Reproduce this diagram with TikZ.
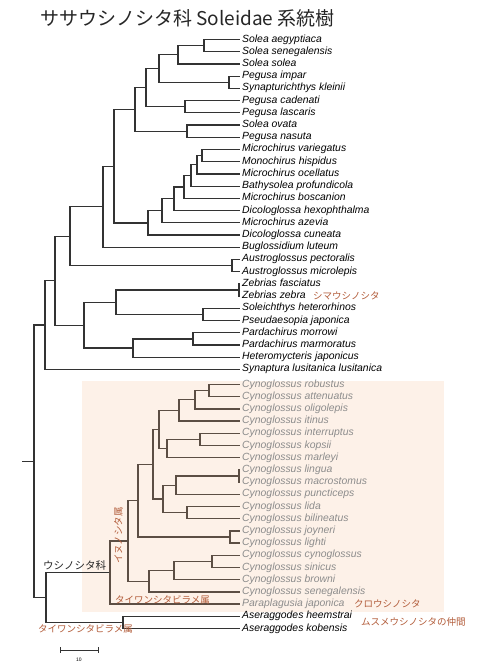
\documentclass[tikz,border=0pt]{standalone}
\usepackage{fontspec}
\setmainfont{Liberation Sans}
\newfontfamily\jfont{Noto Sans CJK JP}
\usetikzlibrary{positioning}
\definecolor{jbrown}{RGB}{178,92,58}
\definecolor{cgray}{RGB}{140,140,140}
\definecolor{boxfill}{RGB}{253,241,232}
\definecolor{cline}{RGB}{92,78,68}
\tikzset{
  branch/.style={draw=black!80, line width=1.25pt},
  cbranch/.style={draw=cline, line width=1.25pt},
  leaf/.style={anchor=west, inner xsep=2pt, inner ysep=0pt, font=\fontsize{10.4}{12}\selectfont\itshape, text height=7pt, text depth=2pt},
  cleaf/.style={leaf, text=cgray},
  jlabel/.style={font=\jfont\fontsize{9.5}{11}\selectfont, text=jbrown, inner sep=0pt},
}

\begin{document}
\begin{tikzpicture}[x=1pt, y=-1pt]
  \useasboundingbox (0,0) rectangle (500,667);
  % Cynoglossidae box
  \fill[boxfill] (82,381) rectangle (444,612);

  \node[font=\jfont\fontsize{19}{22}\selectfont, text=black!85, anchor=west, inner sep=0pt]
    (title) at (40,18.5) {ササウシノシタ科 Soleidae 系統樹};

  % leaves
  \foreach \txt [count=\i from 0] in {Solea aegyptiaca, Solea senegalensis, Solea solea,
      Pegusa impar, Synapturichthys kleinii, Pegusa cadenati, Pegusa lascaris,
      Solea ovata, Pegusa nasuta, Microchirus variegatus, Monochirus hispidus,
      Microchirus ocellatus, Bathysolea profundicola, Microchirus boscanion,
      Dicologlossa hexophthalma, Microchirus azevia, Dicologlossa cuneata,
      Buglossidium luteum, Austroglossus pectoralis, Austroglossus microlepis,
      Zebrias fasciatus, Zebrias zebra, Soleichthys heterorhinos, Pseudaesopia japonica,
      Pardachirus morrowi, Pardachirus marmoratus, Heteromycteris japonicus,
      Synaptura lusitanica lusitanica}{
    \coordinate (l\i) at (240,{39.5+12.22*\i});
    \node[leaf] (t\i) at (l\i) {\txt};
  }
  \foreach \txt [count=\i from 28] in {Cynoglossus robustus, Cynoglossus attenuatus,
      Cynoglossus oligolepis, Cynoglossus itinus, Cynoglossus interruptus,
      Cynoglossus kopsii, Cynoglossus marleyi, Cynoglossus lingua,
      Cynoglossus macrostomus, Cynoglossus puncticeps, Cynoglossus lida,
      Cynoglossus bilineatus, Cynoglossus joyneri, Cynoglossus lighti,
      Cynoglossus cynoglossus, Cynoglossus sinicus, Cynoglossus browni,
      Cynoglossus senegalensis, Paraplagusia japonica}{
    \coordinate (l\i) at (240,{384.5+12.2*(\i-28)});
    \node[cleaf] (t\i) at (l\i) {\txt};
  }
  \foreach \txt [count=\i from 47] in {Aseraggodes heemstrai, Aseraggodes kobensis}{
    \coordinate (l\i) at (240,{384.5+12.2*(\i-28)});
    \node[leaf] (t\i) at (l\i) {\txt};
  }

  % internal nodes
  \foreach \n/\x/\y in {a1/204/45.61, a2/178/54.78, a3/229/82.27, a4/159/68.52,
      a5/185/106.71, a6/146/87.62, a7/187/131.15, a8/135/109.38,
      b1/202/155.59, b2/197/164.76, b3/191/175.45, b4/184/186.90,
      b5/174/198.74, b6/162/210.77, b7/148/222.90,
      c1/114/166.14, c2/103/206.69, d1/232/265.57, c3/70/236.13,
      e1/239/290.01, e2/203/314.45, e3/116/302.23, e4/193/338.89,
      e5/133/348.06, e6/84/325.14, c4/55/280.63, c5/45/325.03,
      f1/209/390.6, f2/195/399.75, f3/179/410.43, f4/200/439.4,
      f5/167/448.55, f6/159/429.49, g1/239/476.0, g2/176/485.15,
      g3/187/512.6, g4/163/498.88, f7/153/464.18, h1/230/537.0,
      f8/138/500.59, i1/212/561.4, i2/174/570.55, i3/149/581.23,
      f9/128/540.91, j1/110/572.5, k1/123/622.4, j2/46/597.45,
      rt/34/461.24, r0/22/461.24}
    \coordinate (\n) at (\x,\y);

  % Soleidae branches
  \foreach \p/\c in {a1/l0, a1/l1, a2/a1, a2/l2, a3/l3, a3/l4, a4/a2, a4/a3,
      a5/l5, a5/l6, a6/a4, a6/a5, a7/l7, a7/l8, a8/a6, a8/a7,
      b1/l9, b1/l10, b2/b1, b2/l11, b3/b2, b3/l12, b4/b3, b4/l13,
      b5/b4, b5/l14, b6/b5, b6/l15, b7/b6, b7/l16,
      c1/a8, c1/b7, c2/c1, c2/l17, d1/l18, d1/l19, c3/c2, c3/d1,
      e1/l20, e1/l21, e2/l22, e2/l23, e3/e1, e3/e2, e4/l24, e4/l25,
      e5/e4, e5/l26, e6/e3, e6/e5, c4/c3, c4/e6, c5/c4, c5/l27,
      k1/l47, k1/l48, j2/j1, j2/k1, rt/c5, rt/j2}
    \draw[branch] (\p) |- (\c);
  \draw[branch] (r0) -- (rt);

  % Cynoglossidae branches
  \foreach \p/\c in {f1/l28, f1/l29, f2/f1, f2/l30, f3/f2, f3/l31,
      f4/l32, f4/l33, f5/f4, f5/l34, f6/f3, f6/f5,
      g1/l35, g1/l36, g2/g1, g2/l37, g3/l38, g3/l39, g4/g2, g4/g3,
      f7/f6, f7/g4, h1/l40, h1/l41, f8/f7, f8/h1,
      i1/l42, i1/l43, i2/i1, i2/l44, i3/i2, i3/l45,
      f9/f8, f9/i3, j1/f9, j1/l46}
    \draw[cbranch] (\p) |- (\c);

  % Japanese names
  \node[jlabel, anchor=west] (zzb) at (313,296.12) {シマウシノシタ};
  \node[jlabel, anchor=west] (kuro) at (354,604) {クロウシノシタ};
  \node[jlabel, anchor=west] (musu) at (361,621.5) {ムスメウシノシタの仲間};
  \node[jlabel, anchor=west] (para) at (115,599.5) {タイワンシタビラメ属};
  \node[jlabel, anchor=west] (asera) at (38,629) {タイワンシタビラメ属};
  \node[jlabel, rotate=90] (inu) at (118.5,535.5) {イヌノシタ属};
  \node[jlabel, text=black!85, font=\jfont\fontsize{10.5}{12}\selectfont, anchor=west]
    (cyno) at (43,565.5) {ウシノシタ科};

  % scale bar
  \draw[branch, line width=0.8pt] (60,650) -- (98,650);
  \draw[branch, line width=0.8pt] (60,647) -- (60,653);
  \draw[branch, line width=0.8pt] (98,647) -- (98,653);
  \node[font=\fontsize{5}{6}\selectfont, inner sep=0pt] (sbar) at (79,660) {10};
\end{tikzpicture}
\end{document}
